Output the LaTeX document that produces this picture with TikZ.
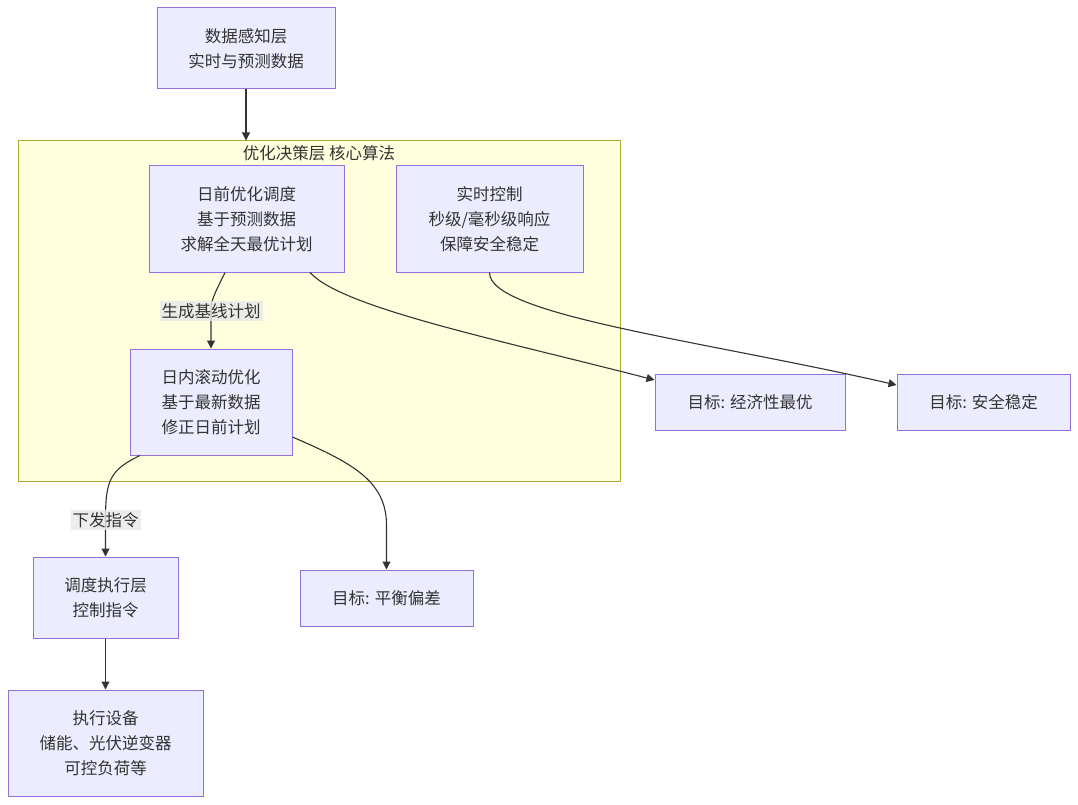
\documentclass[tikz,border=0pt]{standalone}
\usepackage{fontspec}
\newfontfamily\cjk{Noto Sans CJK SC}
\usepackage{tikz}
\usetikzlibrary{arrows.meta,shapes}

\begin{document}
\begin{tikzpicture}[x=1pt,y=-1pt]
    \definecolor{mynode}{RGB}{236,236,255}
    \definecolor{myborder}{RGB}{147,112,219}
    \definecolor{mycluster}{RGB}{255,255,222}
    \definecolor{myclusterb}{RGB}{170,170,51}
    \definecolor{myline}{RGB}{51,51,51}
    \definecolor{mylabel}{RGB}{232,232,232}

    \cjk\fontsize{16.5pt}{25pt}\selectfont  % 字体大小
    \tikzstyle{format}=[rectangle,draw=myborder,line width=1pt,fill=mynode,text=myline,align=center,inner sep=0pt]  % 普通节点
    \tikzstyle{group}=[rectangle,draw=myclusterb,line width=1pt,fill=mycluster]  % 子图背景
    \tikzstyle{lab}=[fill=mylabel,fill opacity=0.8,text opacity=1,text=myline,inner sep=2pt]  % 连线标签
    \tikzstyle{line}=[draw=myline,line width=1.1pt,-{Triangle[length=8pt,width=8pt]}]  % 连线

    \useasboundingbox (0,0) rectangle (1078,805);

    % 子图: 优化决策层
    \node[group,minimum width=602pt,minimum height=340pt](core) at (319,311){};
    \node[text=myline](coretitle) at (319,153){优化决策层 核心算法};

    % 定义节点
    \node[format,minimum width=178pt,minimum height=81pt](sense) at (246,48.5){数据感知层\\实时与预测数据};
    \node[format,minimum width=195pt,minimum height=106pt](day) at (246.5,219){日前优化调度\\基于预测数据\\求解全天最优计划};
    \node[format,minimum width=187pt,minimum height=106pt](rt) at (489.5,219){实时控制\\秒级/毫秒级响应\\保障安全稳定};
    \node[format,minimum width=162pt,minimum height=106pt](intra) at (211,402){日内滚动优化\\基于最新数据\\修正日前计划};
    \node[format,minimum width=190pt,minimum height=56pt](econ) at (750,402){目标: 经济性最优};
    \node[format,minimum width=173pt,minimum height=56pt](safe) at (983.5,402){目标: 安全稳定};
    \node[format,minimum width=145pt,minimum height=81pt](exec) at (105.5,597.5){调度执行层\\控制指令};
    \node[format,minimum width=173pt,minimum height=56pt](bal) at (386.5,598){目标: 平衡偏差};
    \node[format,minimum width=195pt,minimum height=106pt](dev) at (105.5,743){执行设备\\储能、光伏逆变器\\可控负荷等};

    % 开始画线
    \draw[line](sense.south) -- (sense.south |- core.north);
    \draw[line]([xshift=-21.5pt]day.south) .. controls (214,295) and (211,300) .. (211,311) node[lab]{生成基线计划} -- (intra.north);
    \draw[line]([xshift=63.5pt]day.south) .. controls (342,308) and (500,340) .. ([yshift=22pt]econ.west);
    \draw[line](rt.south) .. controls (489,315) and (700,340) .. ([yshift=17pt]safe.west);
    \draw[line]([xshift=-71pt]intra.south) .. controls (110,470) and (105.5,480) .. (105.5,520) node[lab]{下发指令} -- (exec.north);
    \draw[line]([yshift=-35pt]intra.east) .. controls (350,462) and (386.5,480) .. (386.5,525) -- (bal.north);
    \draw[line](exec) -- (dev);
\end{tikzpicture}
\end{document}
